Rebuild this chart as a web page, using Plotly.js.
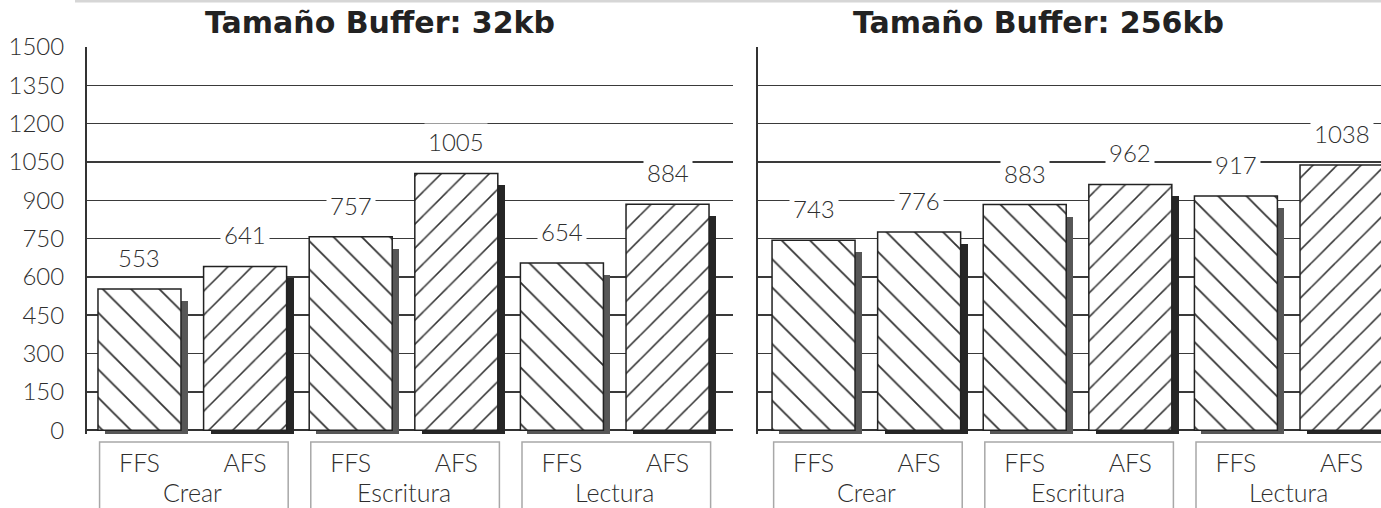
<!DOCTYPE html>
<html>
<head>
<meta charset="utf-8">
<script src="https://cdn.plot.ly/plotly-3.0.1.min.js"></script>
<style>html,body{margin:0;padding:0;background:#fff;}#chart{width:1381px;height:508px;}</style>
</head>
<body>
<div id="chart"></div>
<script>
// ---- data ----
const categories = ['Crear', 'Escritura', 'Lectura'];
const systems = ['FFS', 'AFS'];
const panelTitles = ['Tamaño Buffer: 32kb', 'Tamaño Buffer: 256kb'];
const values32 = [553, 641, 757, 1005, 654, 884];
const values256 = [743, 776, 883, 962, 917, 1038];
const hatch32 = ['\\', '/', '\\', '/', '\\', '/'];
const hatch256 = ['\\', '\\', '\\', '/', '\\', '/'];
const yTicks = [0, 150, 300, 450, 600, 750, 900, 1050, 1200, 1350, 1500];

// ---- styling constants ----
const W = 1381, H = 508;
const ML = 87, MT = 47, MB = 74;
const PW = W - ML, PH = H - MT - MB;
const FONT = 'Lato, "Open Sans", "DejaVu Sans", sans-serif';
const TFONT = '"DejaVu Sans", Verdana, sans-serif';
const TXT = '#2e2e2e';
const YMIN = -15, YMAX = 1500;
const BARW = 0.786;
const SH_DX = 0.066;     // shadow horizontal offset (x units)
const SH_DROP = 47;      // shadow starts this much below bar top (y units)

const pxX = p => (p - ML) / PW;          // pixel -> paper x
const pxY = p => (MT + PH - p) / PH;     // pixel -> paper y

const labels = [];
categories.forEach(c => systems.forEach(s => labels.push(s)));
const pos = labels.map((_, i) => i);

function panelTraces(values, hatch, xa, ya) {
  const isAFS = labels.map(l => l === 'AFS');
  const shadow = {
    type: 'bar', x: pos, y: values.map(v => v - SH_DROP - YMIN), base: values.map(() => YMIN),
    width: BARW, offset: -BARW / 2 + SH_DX,
    marker: { color: isAFS.map(a => a ? '#262626' : '#575757'), line: { width: 0 } },
    xaxis: xa, yaxis: ya, hoverinfo: 'skip', showlegend: false
  };
  const main = {
    type: 'bar', x: pos, y: values, width: BARW, offset: -BARW / 2,
    marker: {
      color: '#ffffff',
      line: { color: '#222', width: 1.5 },
      pattern: {
        shape: hatch, fgcolor: '#333', bgcolor: '#ffffff',
        size: hatch.map(h => h === '/' ? 17 : 20), solidity: 0.09, fillmode: 'replace'
      }
    },
    xaxis: xa, yaxis: ya, showlegend: false
  };
  return [shadow, main];
}

const data = [
  ...panelTraces(values32, hatch32, 'x', 'y'),
  ...panelTraces(values256, hatch256, 'x2', 'y2')
];

const annotations = [];
const shapes = [];

function panelDecor(values, xref, titleText, titleX) {
  values.forEach((v, i) => annotations.push({
    xref: xref, yref: xref === 'x' ? 'y' : 'y2', x: pos[i], y: v, xanchor: 'center',
    text: String(v), showarrow: false, yanchor: 'bottom', yshift: 13,
    bgcolor: '#ffffff', borderpad: 3,
    font: { family: FONT, size: 24, color: TXT, weight: 300 }
  }));
  categories.forEach((c, g) => {
    const a = pos[g * 2], b = pos[g * 2 + 1];
    annotations.push({
      xref: xref, yref: 'paper', x: (a + b) / 2, y: pxY(492), yanchor: 'middle', xanchor: 'center',
      text: c, showarrow: false, font: { family: FONT, size: 25, color: TXT, weight: 300 }
    });
    shapes.push({
      type: 'rect', xref: xref, yref: 'paper',
      x0: a - BARW / 2 + 0.015, x1: b + BARW / 2 + 0.015,
      y0: pxY(442), y1: pxY(540),
      line: { color: '#a8a8a8', width: 1.5 }, fillcolor: 'rgba(0,0,0,0)'
    });
  });
  annotations.push({
    xref: 'paper', yref: 'paper', x: titleX, y: pxY(23), yanchor: 'middle', xanchor: 'center',
    text: '<b>' + titleText + '</b>', showarrow: false,
    font: { family: TFONT, size: 30, color: '#222' }
  });
}
panelDecor(values32, 'x', panelTitles[0], pxX(380));
panelDecor(values256, 'x2', panelTitles[1], pxX(1038));

// faint scan border at the very top
shapes.push({ type: 'line', xref: 'paper', yref: 'paper', x0: pxX(75), x1: 1, y0: pxY(1), y1: pxY(1),
  line: { color: '#d6d6d6', width: 3 } });

const yBase = {
  range: [YMIN, YMAX], tickvals: yTicks, showgrid: true, gridcolor: '#3a3a3a', gridwidth: 1.5,
  zeroline: true, zerolinecolor: '#333', zerolinewidth: 1.5,
  showline: true, linecolor: '#333', linewidth: 2, ticks: '', fixedrange: true
};
const xBase = {
  tickvals: pos, ticktext: labels, showgrid: false, zeroline: false, showline: false, ticks: '',
  tickfont: { family: FONT, size: 25, color: TXT, weight: 300 }, ticklabelstandoff: 12
};

const layout = {
  width: W, height: H,
  margin: { l: ML, r: 0, t: MT, b: MB, pad: 0 },
  paper_bgcolor: '#fff', plot_bgcolor: '#fff',
  barmode: 'overlay', bargap: 0,
  font: { family: FONT, color: TXT },
  xaxis: Object.assign({}, xBase, { domain: [0, pxX(733)], range: [-0.497, 5.62], anchor: 'y' }),
  xaxis2: Object.assign({}, xBase, { domain: [pxX(758), 1], range: [-0.526, 5.374], anchor: 'y2' }),
  yaxis: Object.assign({}, yBase, { anchor: 'x', showticklabels: true,
    tickfont: { family: FONT, size: 24, color: TXT, weight: 300 }, ticklabelstandoff: 16 }),
  yaxis2: Object.assign({}, yBase, { anchor: 'x2', showticklabels: false }),
  annotations: annotations,
  shapes: shapes
};

Plotly.newPlot('chart', data, layout, { displayModeBar: false, staticPlot: true });
</script>
</body>
</html>
